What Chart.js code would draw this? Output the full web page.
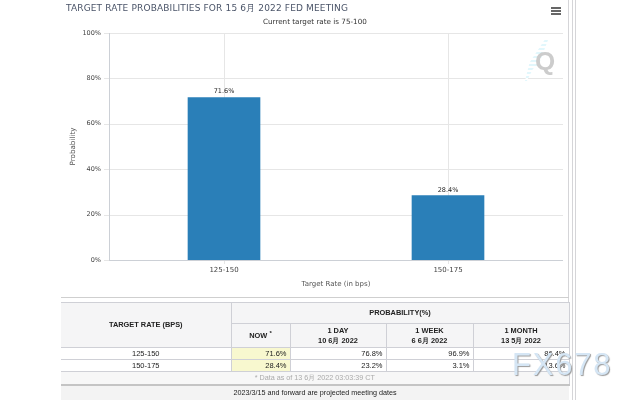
<!DOCTYPE html>
<html>
<head>
<meta charset="utf-8">
<script src="https://cdn.jsdelivr.net/npm/chart.js@4"></script>
<style>
  html, body { margin: 0; padding: 0; background: #fff; }
  body { width: 640px; height: 400px; overflow: hidden; position: relative; font-family: "DejaVu Sans", sans-serif; }
  #chart { position: absolute; left: 0; top: 0; }
  .abs { position: absolute; white-space: nowrap; }
  #title { left: 66px; top: 2px; font-size: 9px; color: #4a5468; letter-spacing: 0.15px; }
  #subtitle { left: 263px; top: 17px; font-size: 7.2px; color: #333; }
  #menu { left: 551px; top: 7px; width: 10px; height: 2px; background: #666; box-shadow: 0 3px 0 #666, 0 6px 0 #666; }
  #logo { left: 535px; top: 46px; font: bold 26px "Liberation Sans", sans-serif; color: #ccc; }
  #stripe { left: 525px; top: 40px; width: 23px; height: 41px; background: repeating-linear-gradient(180deg, #e2f7fc 0 2px, #fff 2px 4px); clip-path: polygon(85% 0, 100% 0, 60% 60%, 35% 70%, 8% 100%, 0 100%, 20% 55%); }
  .vline { top: 0; width: 1px; height: 400px; background: #d5d5d8; }
  #cardBottom { left: 61px; top: 297px; width: 508px; height: 1px; background: #cfcfcf; }
  #rates { position: absolute; left: 61px; top: 302px; width: 508px; height: 84px; border-collapse: collapse; table-layout: fixed;
    font: 7.5px "Liberation Sans", sans-serif; color: #222; }
  #rates td, #rates th { border: 1px solid #cfd0d6; padding: 0; }
  #rates th { background: #f5f5f6; font-weight: bold; font-size: 7.4px; text-align: center; line-height: 10px; }
  #rates td { background: #fff; text-align: right; padding-right: 3px; height: 11px; line-height: 10px; }
  #rates td.rate { text-align: center; padding-right: 0; }
  #rates td.now { background: #f8f8cf; }
  #rates td.note { background: #f7f7f7; text-align: center; color: #aaa; padding-right: 0; height: 12px; font-size: 7.2px; border-bottom: 2px solid #c4c4c4; }
  #footer { left: 61px; top: 386px; width: 508px; height: 14px; background: #f3f3f3; text-align: center; font: 7.2px/14px "Liberation Sans", sans-serif; color: #222; }
  #mark { left: 512px; top: 347px; font: 31px "Liberation Sans", sans-serif; letter-spacing: 1.8px; color: #d5e6f5; text-shadow: 1px 1px 1px #9a9a9a; }
</style>
</head>
<body>
<canvas id="chart" width="640" height="400"></canvas>

<div class="abs" id="title">TARGET RATE PROBABILITIES FOR 15 6月 2022 FED MEETING</div>
<div class="abs" id="subtitle">Current target rate is 75-100</div>
<div class="abs" id="menu"></div>
<div class="abs" id="stripe"></div>
<div class="abs" id="logo">Q</div>

<div class="abs vline" style="left:568px"></div>
<div class="abs vline" style="left:572px"></div>
<div class="abs vline" style="left:575px"></div>
<div class="abs" id="cardBottom"></div>

<table id="rates">
  <colgroup>
    <col style="width:170px"><col style="width:59px"><col style="width:96px"><col style="width:87px"><col style="width:96px">
  </colgroup>
  <thead id="ratesHead"></thead>
  <tbody id="ratesBody"></tbody>
</table>
<div class="abs" id="footer">2023/3/15 and forward are projected meeting dates</div>
<div class="abs" id="mark">FX678</div>

<script>
// chart values
let categories = ['125-150', '150-175'];
let probabilities = [71.6, 28.4];
let yTicks = [0, 20, 40, 60, 80, 100];

// table values
let tableHeaders = ['1 DAY<br>10 6月 2022', '1 WEEK<br>6 6月 2022', '1 MONTH<br>13 5月 2022'];
let oneDay = [76.8, 23.2];
let oneWeek = [96.9, 3.1];
let oneMonth = [86.4, 13.6];
let tableNote = '* Data as of 13 6月 2022 03:03:39 CT';

function pct(v) {
    return v.toFixed(1) + '%';
}

// build the table under the chart
let headHtml = '<tr style="height:21px"><th rowspan="2" style="border-left:none">TARGET RATE (BPS)</th><th colspan="4">PROBABILITY(%)</th></tr>' +
    '<tr style="height:24px"><th>NOW <sup style="font-size:6px;line-height:0">*</sup></th>';
for (let i = 0; i < tableHeaders.length; i++) {
    headHtml += '<th>' + tableHeaders[i] + '</th>';
}
document.getElementById('ratesHead').innerHTML = headHtml + '</tr>';

let bodyHtml = '';
for (let i = 0; i < categories.length; i++) {
    bodyHtml += '<tr><td class="rate" style="border-left:none">' + categories[i] + '</td>' +
        '<td class="now">' + pct(probabilities[i]) + '</td>' +
        '<td>' + pct(oneDay[i]) + '</td>' +
        '<td>' + pct(oneWeek[i]) + '</td>' +
        '<td>' + pct(oneMonth[i]) + '</td></tr>';
}
bodyHtml += '<tr><td class="note" colspan="5" style="border-left:none">' + tableNote + '</td></tr>';
document.getElementById('ratesBody').innerHTML = bodyHtml;

// horizontal grid lines run a little past the plot on both sides, with tick marks on the left
let gridPlugin = {
    id: 'wideGrid',
    beforeDatasetsDraw: function(chart) {
        let ctx = chart.ctx;
        let y = chart.scales.y;
        let area = chart.chartArea;
        ctx.save();
        ctx.lineWidth = 1;
        ctx.strokeStyle = '#e6e6e6';
        for (let i = 0; i < yTicks.length; i++) {
            let py = Math.round(y.getPixelForValue(yTicks[i])) + 0.5;
            ctx.beginPath();
            ctx.moveTo(104, py);
            ctx.lineTo(563, py);
            ctx.stroke();
        }
        // left axis line
        ctx.strokeStyle = '#ccd0d6';
        ctx.beginPath();
        ctx.moveTo(109.5, area.top);
        ctx.lineTo(109.5, area.bottom + 1);
        ctx.stroke();
        // bottom axis line
        ctx.beginPath();
        ctx.moveTo(109, area.bottom + 0.5);
        ctx.lineTo(563, area.bottom + 0.5);
        ctx.stroke();
        ctx.restore();
    }
};

// value labels above the bars
let labelPlugin = {
    id: 'barLabels',
    afterDatasetsDraw: function(chart) {
        let ctx = chart.ctx;
        let bars = chart.getDatasetMeta(0).data;
        ctx.save();
        ctx.font = '6.5px "DejaVu Sans"';
        ctx.fillStyle = '#222';
        ctx.textAlign = 'center';
        for (let i = 0; i < bars.length; i++) {
            ctx.fillText(pct(probabilities[i]), bars[i].x, bars[i].y - 4);
        }
        ctx.restore();
    }
};

new Chart(document.getElementById('chart'), {
    type: 'bar',
    data: {
        labels: categories,
        datasets: [{
            data: probabilities,
            backgroundColor: '#2a7fb8',
            barThickness: 72
        }]
    },
    options: {
        responsive: false,
        animation: false,
        layout: { padding: { top: 33, right: 80, bottom: 100, left: 0 } },
        plugins: { legend: { display: false }, tooltip: { enabled: false }, title: { display: false } },
        scales: {
            x: {
                afterFit: function(scale) { scale.height = 40; },
                border: { display: false },
                grid: { color: '#e6e6e6', tickLength: 4, offset: false },
                ticks: { color: '#444', font: { family: 'DejaVu Sans', size: 7 }, padding: 2, maxRotation: 0 },
                title: { display: true, text: 'Target Rate (in bps)', color: '#555', font: { family: 'DejaVu Sans', size: 7 }, padding: { top: 5, bottom: 12 } }
            },
            y: {
                min: 0,
                max: 100,
                afterFit: function(scale) { scale.width = 112; },
                afterBuildTicks: function(scale) {
                    scale.ticks = yTicks.map(function(v) { return { value: v }; });
                },
                border: { display: false },
                grid: { display: false, drawTicks: false },
                ticks: {
                    color: '#444',
                    font: { family: 'DejaVu Sans', size: 6.5 },
                    padding: 11,
                    callback: function(v) { return v + '%'; }
                },
                title: { display: true, text: 'Probability', color: '#555', font: { family: 'DejaVu Sans', size: 7.2 }, padding: { top: 69, bottom: 0 } }
            }
        }
    },
    plugins: [gridPlugin, labelPlugin]
});
</script>
</body>
</html>
